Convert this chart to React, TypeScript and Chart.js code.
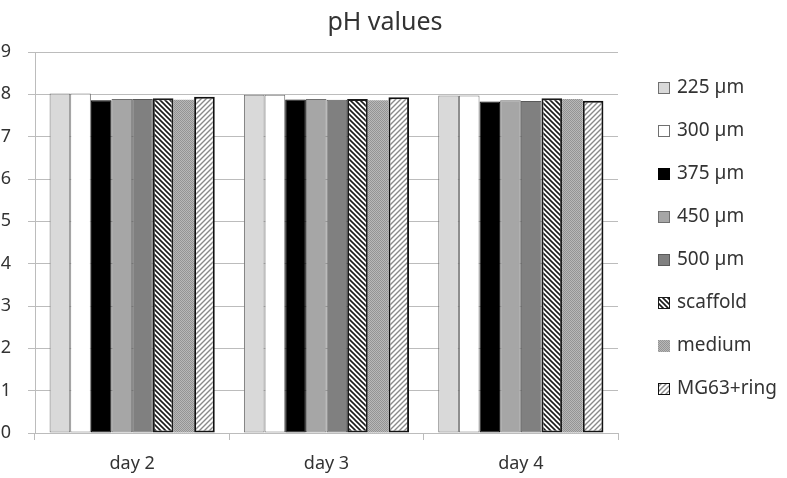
import React, { useEffect, useRef } from "react";
import { Chart, registerables } from "chart.js";

Chart.register(...registerables);

const categories = ["day 2", "day 3", "day 4"];
const seriesNames = ["225 µm", "300 µm", "375 µm", "450 µm", "500 µm", "scaffold", "medium", "MG63+ring"];
const v225 = [8.02, 7.99, 7.97];
const v300 = [8.02, 7.99, 7.97];
const v375 = [7.86, 7.88, 7.83];
const v450 = [7.89, 7.89, 7.86];
const v500 = [7.89, 7.87, 7.84];
const vScaffold = [7.91, 7.89, 7.91];
const vMedium = [7.87, 7.86, 7.89];
const vMG63 = [7.94, 7.93, 7.85];
const yTicks = [0, 1, 2, 3, 4, 5, 6, 7, 8, 9];

const FONT = "'Noto Sans', 'DejaVu Sans', sans-serif";
const TEXT = "#333333";
const GRID = "#bcbcbc";

function stripePattern(dir: "back" | "fwd", fg: string, bg: string, size: number, lw: number): CanvasPattern | string {
  const c = document.createElement("canvas");
  c.width = size;
  c.height = size;
  const ctx = c.getContext("2d");
  if (!ctx) return fg;
  ctx.fillStyle = bg;
  ctx.fillRect(0, 0, size, size);
  ctx.strokeStyle = fg;
  ctx.lineWidth = lw;
  ctx.beginPath();
  if (dir === "back") {
    ctx.moveTo(-size, 0); ctx.lineTo(size, 2 * size);
    ctx.moveTo(0, 0); ctx.lineTo(size, size);
    ctx.moveTo(0, -size); ctx.lineTo(2 * size, size);
  } else {
    ctx.moveTo(0, size); ctx.lineTo(size, 0);
    ctx.moveTo(-size, size); ctx.lineTo(size, -size);
    ctx.moveTo(0, 2 * size); ctx.lineTo(2 * size, 0);
  }
  ctx.stroke();
  return ctx.createPattern(c, "repeat") || fg;
}

function dotPattern(): CanvasPattern | string {
  const c = document.createElement("canvas");
  c.width = 2;
  c.height = 2;
  const ctx = c.getContext("2d");
  if (!ctx) return "#a8a8a8";
  ctx.fillStyle = "#b8b8b8";
  ctx.fillRect(0, 0, 2, 2);
  ctx.fillStyle = "#949494";
  ctx.fillRect(0, 0, 1, 1);
  ctx.fillRect(1, 1, 1, 1);
  return ctx.createPattern(c, "repeat") || "#a8a8a8";
}

const legendPlugin = {
  id: "sideLegend",
  afterDraw(chart: any) {
    const ctx = chart.ctx;
    const ds = chart.data.datasets;
    const x0 = 658;
    const y0 = 88;
    const step = 43;
    ctx.save();
    ctx.font = `19px ${FONT}`;
    ctx.textBaseline = "middle";
    ctx.textAlign = "left";
    ds.forEach((d: any, i: number) => {
      const y = y0 + i * step;
      ctx.fillStyle = d.backgroundColor;
      ctx.fillRect(x0, y - 6, 12, 12);
      if (d.borderWidth > 0) {
        ctx.lineWidth = 1;
        ctx.strokeStyle = d.borderColor;
        ctx.strokeRect(x0 + 0.5, y - 5.5, 11, 11);
      }
      ctx.fillStyle = TEXT;
      ctx.fillText(d.label, x0 + 19, y);
    });
    ctx.restore();
  },
};

export default function App() {
  const ref = useRef<HTMLCanvasElement>(null);
  useEffect(() => {
    if (!ref.current) return;
    const scaffold = stripePattern("back", "#1a1a1a", "#ffffff", 5, 1.6);
    const mg63 = stripePattern("fwd", "#8a8a8a", "#ffffff", 5, 1.4);
    const medium = dotPattern();
    const values = [v225, v300, v375, v450, v500, vScaffold, vMedium, vMG63];
    const fills: any[] = ["#d9d9d9", "#ffffff", "#000000", "#a6a6a6", "#808080", scaffold, medium, mg63];
    const borders = ["#707070", "#707070", "#000000", "#707070", "#5a5a5a", "#1a1a1a", "#a8a8a8", "#111111"];
    const widths = [1, 1, 1, 1, 1, 2, 0, 2];
    const chart = new Chart(ref.current, {
      type: "bar",
      data: {
        labels: categories,
        datasets: seriesNames.map((name, i) => ({
          label: name,
          data: values[i],
          backgroundColor: fills[i],
          borderColor: borders[i],
          borderWidth: widths[i],
          borderSkipped: false as any,
          categoryPercentage: 0.85,
          barPercentage: 1,
          yAxisID: "y",
        })),
      },
      options: {
        animation: false,
        responsive: false,
        maintainAspectRatio: false,
        layout: { padding: { left: 0, right: 17, top: 0, bottom: 0 } },
        plugins: {
          legend: { display: false },
          tooltip: { enabled: false },
          title: {
            display: true,
            text: "pH values",
            color: TEXT,
            font: { family: FONT, size: 25, weight: "normal", lineHeight: 1.2 },
            padding: { top: 8, bottom: 14 },
          },
        },
        scales: {
          x: {
            grid: { offset: true, drawOnChartArea: false, color: GRID, tickLength: 7 },
            border: { color: GRID },
            ticks: { color: TEXT, font: { family: FONT, size: 18 }, padding: 13 },
            afterFit: (s: any) => { s.height = 45; },
          },
          y: {
            min: 0,
            max: 9,
            afterBuildTicks: (s: any) => { s.ticks = yTicks.map((v) => ({ value: v })); },
            grid: { color: GRID, tickLength: 7 },
            border: { color: GRID },
            ticks: { color: TEXT, font: { family: FONT, size: 18 }, padding: 17 },
            afterFit: (s: any) => { s.width = 35; },
          },
          y2: {
            position: "right",
            display: true,
            grid: { display: false },
            border: { display: false },
            ticks: { display: false },
            afterFit: (s: any) => { s.width = 152; },
          },
        },
      },
      plugins: [legendPlugin],
    });
    return () => chart.destroy();
  }, []);
  return (
    <div style={{ position: "fixed", left: 0, top: 0, width: 787, height: 478, background: "#fff" }}>
      <canvas ref={ref} width={787} height={478} style={{ width: 787, height: 478, display: "block" }} />
    </div>
  );
}
